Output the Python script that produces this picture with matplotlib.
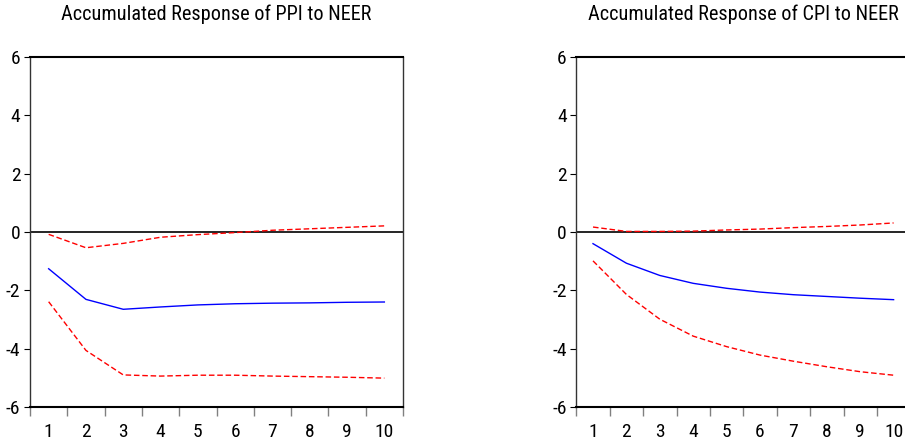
import matplotlib
matplotlib.use("Agg")
import matplotlib.pyplot as plt
from matplotlib.ticker import FixedLocator, NullFormatter, FixedFormatter

plt.rcParams['font.family'] = ['Roboto Condensed', 'Liberation Sans Narrow', 'DejaVu Sans']
plt.rcParams['font.stretch'] = 'condensed'

periods = [1, 2, 3, 4, 5, 6, 7, 8, 9, 10]
tick_labels = ["1", "2", "3", "4", "5", "6", "7", "8", "9", "10"]
y_ticks = [-6, -4, -2, 0, 2, 4, 6]

ppi_resp = [-1.26, -2.31, -2.65, -2.57, -2.50, -2.46, -2.44, -2.43, -2.41, -2.40]
ppi_upper = [-0.08, -0.54, -0.39, -0.18, -0.09, -0.02, 0.06, 0.11, 0.16, 0.21]
ppi_lower = [-2.39, -4.06, -4.90, -4.94, -4.91, -4.91, -4.94, -4.96, -4.98, -5.01]

cpi_resp = [-0.40, -1.07, -1.49, -1.76, -1.93, -2.06, -2.15, -2.21, -2.27, -2.32]
cpi_upper = [0.17, 0.02, 0.02, 0.03, 0.07, 0.10, 0.15, 0.19, 0.24, 0.31]
cpi_lower = [-0.99, -2.14, -2.99, -3.57, -3.93, -4.22, -4.43, -4.62, -4.79, -4.91]

titles = ["Accumulated Response of PPI to NEER", "Accumulated Response of CPI to NEER"]

W, H = 905, 448
fig = plt.figure(figsize=(W / 100, H / 100), dpi=100)

def make_axes(left_px, right_px):
    return fig.add_axes([left_px / W, (H - 407) / H, (right_px - left_px) / W, (407 - 57) / H])

ax1 = make_axes(30, 403)
ax2 = make_axes(576.3, 910.3)

panels = [(ax1, ppi_resp, ppi_upper, ppi_lower, titles[0]),
          (ax2, cpi_resp, cpi_upper, cpi_lower, titles[1])]

for ax, resp, up, lo, title in panels:
    ax.axhline(0, color='black', lw=1.2, zorder=1)
    ax.plot(periods, resp, color='#0000FF', lw=1.0, zorder=3)
    ax.plot(periods, up, color='#FF0000', lw=1.0, ls=(0, (4, 2)), zorder=2)
    ax.plot(periods, lo, color='#FF0000', lw=1.0, ls=(0, (4, 2)), zorder=2)
    ax.set_xlim(0.5, 10.5)
    ax.set_ylim(-6, 6)
    ax.set_yticks(y_ticks)
    ax.set_yticklabels([str(v) for v in y_ticks])
    ax.xaxis.set_major_locator(FixedLocator([p - 0.5 for p in periods] + [10.5]))
    ax.xaxis.set_major_formatter(NullFormatter())
    ax.xaxis.set_minor_locator(FixedLocator(periods))
    ax.xaxis.set_minor_formatter(FixedFormatter(tick_labels))
    ax.tick_params(axis='x', which='major', direction='out', length=6.5, width=1.0, color='#808080')
    ax.tick_params(axis='x', which='minor', length=0, pad=11.5, labelsize=14)
    ax.tick_params(axis='y', direction='out', length=4, width=0.8, color='black', pad=3, labelsize=14)
    for s in ['top', 'bottom']:
        ax.spines[s].set_linewidth(1.5)
        ax.spines[s].set_color('black')
    for s in ['left', 'right']:
        ax.spines[s].set_linewidth(1.0)
        ax.spines[s].set_color('#333333')
    ax.set_title(title, fontsize=14.6, pad=27)

fig.savefig("out.png", dpi=100)
